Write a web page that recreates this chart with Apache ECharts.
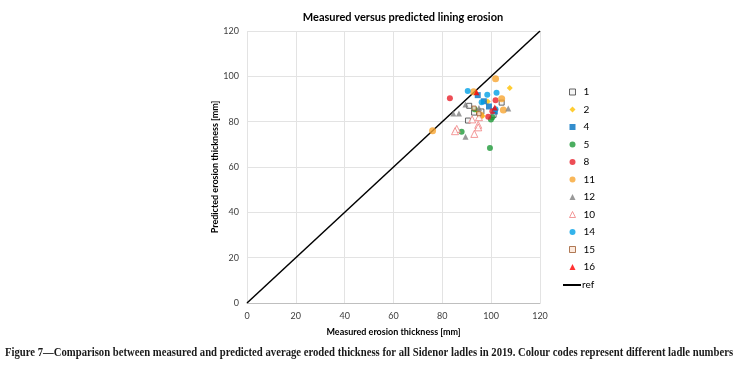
<!DOCTYPE html>
<html><head><meta charset="utf-8">
<script src="https://cdn.jsdelivr.net/npm/echarts@6/dist/echarts.min.js"></script>
<style>html,body{margin:0;padding:0;background:#fff}#c{width:737px;height:377px}</style>
</head><body><div id="c"></div>
<script>
// Data: [measured, predicted] in mm
const xTicks = [0, 20, 40, 60, 80, 100, 120];
const yTicks = [0, 20, 40, 60, 80, 100, 120];
const ladle1  = [[91,87],[93,84],[90.5,80.5],[104.3,88.4],[96,84.5],[101,83]];
const ladle2  = [[107.6,94.8],[98.6,88.9],[94,85],[96.5,82.5]];
const ladle4  = [[94.5,91.7],[99.1,86.7],[101.5,84.5],[97,89]];
const ladle5  = [[93.2,85.5],[99.9,81],[87.9,75.5],[99.5,68.4],[100.5,82]];
const ladle8  = [[83.1,90.3],[101.8,89.4],[100.5,84.6],[98.8,82.2]];
const ladle11 = [[101.8,98.9],[92.8,93.2],[104.3,90.1],[105,85.1],[95.7,82.9],[76,76]];
const ladle12 = [[89.5,87.6],[84.5,83.6],[86.8,83.6],[107,85.8],[89.5,73.3],[95,86]];
const ladle10 = [[92.2,81],[94.7,78.6],[94.7,77.5],[85.9,76.8],[85.2,75.8],[93.1,74.6],[95,82]];
const ladle14 = [[90.4,93.5],[98.4,91.9],[102.2,92.8],[96.1,88.6],[101.8,85.5]];
const ladle15 = [[93,86],[95,83.5]];
const ladle16 = [[94,93],[101.5,86.3]];
const refLine = [[0,0],[120,120]];

const names = ['1','2','4','5','8','11','12','10','14','15','16'];
const datas = [ladle1,ladle2,ladle4,ladle5,ladle8,ladle11,ladle12,ladle10,ladle14,ladle15,ladle16];
const styles = [
  {symbol:'rect', size:5, item:{color:'#f2f2f2', borderColor:'#404040', borderWidth:1}},
  {symbol:'diamond', size:6, item:{color:'#FFC000'}},
  {symbol:'rect', size:6, item:{color:'#0070C0'}},
  {symbol:'circle', size:6, item:{color:'#1E9A38'}},
  {symbol:'circle', size:6, item:{color:'#E8202A'}},
  {symbol:'circle', size:7, item:{color:'#F7A531'}},
  {symbol:'triangle', size:6, item:{color:'#808080'}},
  {symbol:'triangle', size:7, item:{color:'#fff', borderColor:'#F08080', borderWidth:1}},
  {symbol:'circle', size:6, item:{color:'#00A0E6'}},
  {symbol:'rect', size:4, item:{color:'#fbe5d6', borderColor:'#9c5a2e', borderWidth:1}},
  {symbol:'triangle', size:6, item:{color:'#FF0000'}}
];

const series = names.map((n,i)=>({
  name:n, type:'scatter', data:datas[i], symbol:styles[i].symbol,
  symbolSize:styles[i].size, itemStyle:styles[i].item, z:3
}));
series.push({name:'ref', type:'line', data:refLine, symbol:'none',
  lineStyle:{color:'#000', width:1.5}, itemStyle:{color:'#000'}, z:2});

const chart = echarts.init(document.getElementById('c'));
const axisFont = {fontFamily:'Lato', fontSize:9, color:'#404040'};
const legText = {fontFamily:'Lato', fontSize:10, color:'#000', lineHeight:12};
chart.setOption({
  animation:false,
  title:{text:'Measured versus predicted lining erosion', left:398, top:7, textAlign:'center',
    textStyle:{fontFamily:'Lato', fontSize:11, fontWeight:'bold', color:'#000'}},
  grid:{left:247, right:197, top:31, bottom:74},
  xAxis:{type:'value', min:0, max:120, interval:20,
    name:'Measured erosion thickness [mm]', nameLocation:'middle', nameGap:25,
    nameTextStyle:{fontFamily:'Lato', fontSize:9, fontWeight:'bold', color:'#000'},
    axisLine:{show:true, lineStyle:{color:'#bfbfbf'}}, axisTick:{show:false},
    axisLabel:Object.assign({margin:9}, axisFont),
    splitLine:{lineStyle:{color:'#e3e3e3'}}},
  yAxis:{type:'value', min:0, max:120, interval:20,
    name:'Predicted erosion thickness [mm]', nameLocation:'middle', nameGap:19,
    nameTextStyle:{fontFamily:'Lato', fontSize:9, fontWeight:'bold', color:'#000'},
    axisLine:{show:false}, axisTick:{show:false},
    axisLabel:Object.assign({margin:8}, axisFont),
    splitLine:{lineStyle:{color:'#e3e3e3'}}},
  legend:[
    {orient:'vertical', left:564, top:81, itemWidth:6, itemHeight:6, itemGap:5.5, itemStyle:{borderWidth:1},
      textStyle:Object.assign({padding:[0,0,0,3]}, legText), data:names},
    {orient:'vertical', left:558, top:274, itemWidth:18, itemHeight:2, textStyle:Object.assign({padding:[0,0,0,-4]}, legText),
      data:[{name:'ref', icon:'rect'}]}
  ],
  graphic:[{type:'text', x:5, y:347, scaleX:0.89, style:{
    text:'Figure 7\u2014Comparison between measured and predicted average eroded thickness for all Sidenor ladles in 2019. Colour codes represent different ladle numbers',
    font:'bold 12px "Liberation Serif"', fill:'#1a1a1a'}}],
  series:series
});
</script></body></html>
